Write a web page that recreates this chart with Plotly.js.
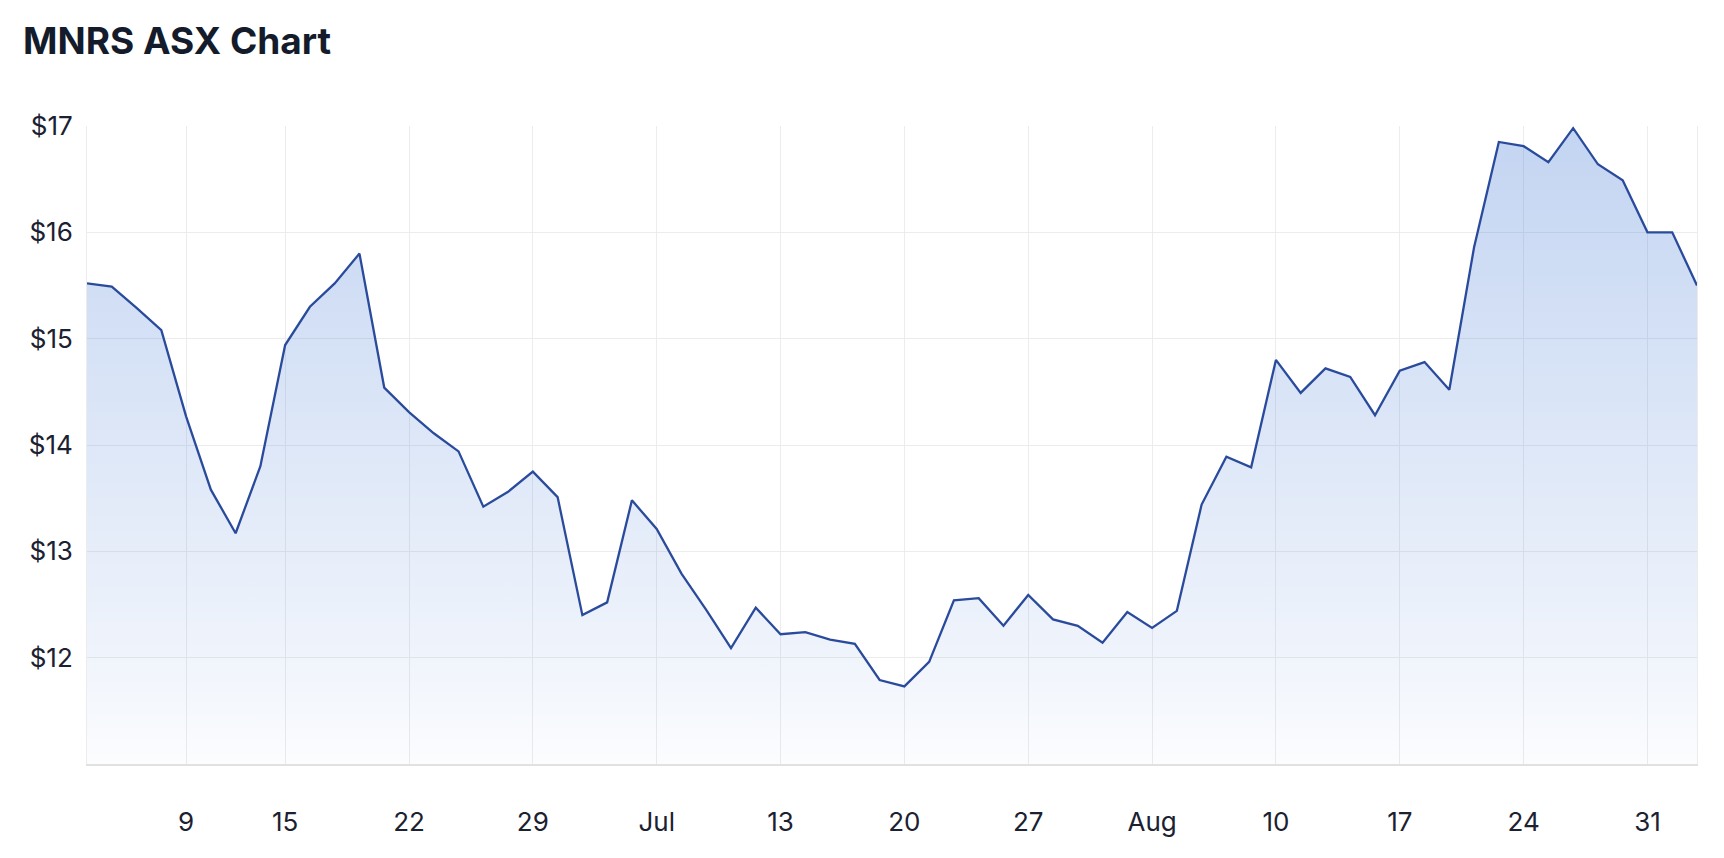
<!DOCTYPE html>
<html>
<head>
<meta charset="utf-8">
<script src="https://cdn.plot.ly/plotly-3.0.1.min.js"></script>
<style>
	html, body { margin: 0; padding: 0; background: #ffffff; }
	#chart { width: 1724px; height: 858px; }
</style>
</head>
<body>
<div id="chart"></div>
<script>
// trading days, June 2 - Sep 2 2020 (no June 8 holiday)
const tradingDays = [
	"2020-06-02", "2020-06-03", "2020-06-04", "2020-06-05",
	"2020-06-09", "2020-06-10", "2020-06-11", "2020-06-12",
	"2020-06-15", "2020-06-16", "2020-06-17", "2020-06-18", "2020-06-19",
	"2020-06-22", "2020-06-23", "2020-06-24", "2020-06-25", "2020-06-26",
	"2020-06-29", "2020-06-30", "2020-07-01", "2020-07-02", "2020-07-03",
	"2020-07-06", "2020-07-07", "2020-07-08", "2020-07-09", "2020-07-10",
	"2020-07-13", "2020-07-14", "2020-07-15", "2020-07-16", "2020-07-17",
	"2020-07-20", "2020-07-21", "2020-07-22", "2020-07-23", "2020-07-24",
	"2020-07-27", "2020-07-28", "2020-07-29", "2020-07-30", "2020-07-31",
	"2020-08-03", "2020-08-04", "2020-08-05", "2020-08-06", "2020-08-07",
	"2020-08-10", "2020-08-11", "2020-08-12", "2020-08-13", "2020-08-14",
	"2020-08-17", "2020-08-18", "2020-08-19", "2020-08-20", "2020-08-21",
	"2020-08-24", "2020-08-25", "2020-08-26", "2020-08-27", "2020-08-28",
	"2020-08-31", "2020-09-01", "2020-09-02"
];

const closePrices = [
	15.52, 15.49, 15.29, 15.08,
	14.27, 13.58, 13.17, 13.80,
	14.94, 15.30, 15.52, 15.80, 14.54,
	14.31, 14.11, 13.94, 13.42, 13.56,
	13.75, 13.51, 12.40, 12.52, 13.48,
	13.21, 12.79, 12.45, 12.09, 12.47,
	12.22, 12.24, 12.17, 12.13, 11.79,
	11.73, 11.96, 12.54, 12.56, 12.30,
	12.59, 12.36, 12.30, 12.14, 12.43,
	12.28, 12.44, 13.44, 13.89, 13.79,
	14.80, 14.49, 14.72, 14.64, 14.28,
	14.70, 14.78, 14.52, 15.86, 16.85,
	16.81, 16.66, 16.98, 16.64, 16.49,
	16.00, 16.00, 15.50
];

const xTickDays = [
	"2020-06-09", "2020-06-15", "2020-06-22", "2020-06-29", "2020-07-06",
	"2020-07-13", "2020-07-20", "2020-07-27", "2020-08-03", "2020-08-10",
	"2020-08-17", "2020-08-24", "2020-08-31"
];
const xTickLabels = ["9", "15", "22", "29", "Jul", "13", "20", "27", "Aug", "10", "17", "24", "31"];

const yTickValues = [12, 13, 14, 15, 16, 17];
const yTickLabels = ["$12", "$13", "$14", "$15", "$16", "$17"];

const FONT = "Inter, 'Liberation Sans', Arial, sans-serif";
const TEXT_COLOR = "#1b2130";
const GRID_COLOR = "#ececec";

function plotChart() {
	let chart = document.getElementById("chart");

	let data = [{
		x: tradingDays,
		y: closePrices,
		type: "scatter",
		mode: "lines",
		fill: "tozeroy",
		fillgradient: {
			type: "vertical",
			start: 11,
			stop: 17,
			colorscale: [
				[0, "rgba(62,118,212,0.02)"],
				[0.2, "rgba(62,118,212,0.09)"],
				[1, "rgba(62,118,212,0.31)"]
			]
		},
		line: { color: "#2a4b9c", width: 2.3 },
		hoverinfo: "x+y"
	}];

	let layout = {
		width: 1724,
		height: 858,
		margin: { l: 87, r: 27, t: 126, b: 94 },
		paper_bgcolor: "#ffffff",
		plot_bgcolor: "#ffffff",
		showlegend: false,
		font: { family: FONT, color: TEXT_COLOR, size: 26 },
		title: {
			text: "<b>MNRS ASX Chart</b>",
			font: { family: FONT, size: 37, color: "#141b2b" },
			xref: "container",
			yref: "container",
			x: 23 / 1724,
			xanchor: "left",
			y: 1 - 41 / 858,
			yanchor: "middle"
		},
		xaxis: {
			type: "category",
			range: [0, tradingDays.length - 1],
			tickmode: "array",
			tickvals: xTickDays,
			ticktext: xTickLabels,
			ticks: "",
			ticklabelstandoff: 34,
			showgrid: true,
			gridcolor: GRID_COLOR,
			gridwidth: 1,
			showline: true,
			linecolor: "#e1e1e1",
			linewidth: 2,
			zeroline: false,
			tickfont: { family: FONT, size: 26, color: TEXT_COLOR }
		},
		yaxis: {
			range: [11, 17],
			tickmode: "array",
			tickvals: yTickValues,
			ticktext: yTickLabels,
			ticks: "",
			ticklabelstandoff: 8,
			showgrid: true,
			gridcolor: GRID_COLOR,
			gridwidth: 1,
			showline: true,
			mirror: true,
			linecolor: GRID_COLOR,
			linewidth: 1,
			zeroline: false,
			tickfont: { family: FONT, size: 26, color: TEXT_COLOR }
		}
	};

	Plotly.newPlot(chart, data, layout, { staticPlot: true });
}

plotChart();
</script>
</body>
</html>
